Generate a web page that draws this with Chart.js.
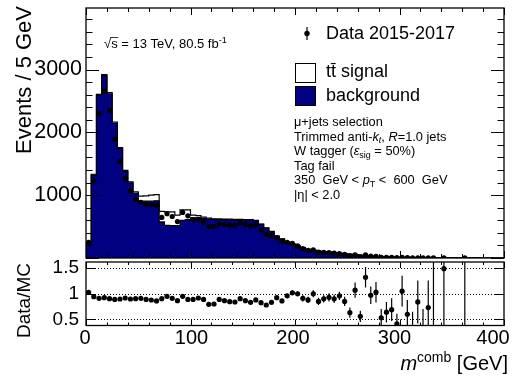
<!DOCTYPE html>
<html>
<head>
<meta charset="utf-8">
<script src="https://cdn.jsdelivr.net/npm/chart.js@4.4.1/dist/chart.umd.min.js"></script>
<style>
  html, body { margin: 0; padding: 0; background: #fff; }
  body { width: 527px; height: 379px; position: relative; overflow: hidden; }
  canvas { position: absolute; left: 0; }
  #mainPanel { top: 0; }
  #ratioPanel { top: 250px; }
</style>
</head>
<body>
<canvas id="mainPanel" width="527" height="262"></canvas>
<canvas id="ratioPanel" width="527" height="129"></canvas>
<script>
// ---- histogram binning: m^comb from 0 to 400 GeV in 5 GeV bins ----
const BIN_WIDTH = 5;
const X_MIN = 0;
const X_MAX = 400;
const binLow = Array.from({ length: (X_MAX - X_MIN) / BIN_WIDTH }, (_, i) => X_MIN + i * BIN_WIDTH);

// ---- background expectation (events / 5 GeV) ----
const background = [
  240, 1320, 2590, 2905, 2615, 2148, 1740, 1380, 1195, 1035,
  905, 905, 905, 910, 575, 520, 515, 515, 600, 612,
  640, 640, 628, 620, 614, 612, 610, 608, 606, 606,
  604, 602, 594, 535, 476, 420, 345, 300, 252, 225,
  190, 164, 136, 126, 107, 98, 92, 85, 75, 70,
  58, 48, 43, 38, 32, 26, 23, 18, 14.5, 11.5,
  10.5, 8.6, 6.7, 4.8, 3.8, 2.9, 2.4, 1.9, 1.4, 1.1,
  0.95, 0.75, 0.55, 0.45, 0.4, 0.35, 0.3, 0.25, 0.2, 0.2
];

// ---- ttbar signal expectation (events / 5 GeV) ----
const ttbarSignal = [
  5, 13, 15, 15, 20, 17, 17, 15, 17, 20,
  80, 85, 95, 98, 166, 215, 220, 168, 167, 155,
  43, 35, 22, 15, 11, 10, 10, 10, 9, 9,
  8, 8, 6, 5, 4, 4, 3, 3, 2, 2,
  2, 1.5, 1.5, 1, 1, 1, 1, 1, 1, 1,
  0.5, 0.5, 0.5, 0.5, 0.5, 0.5, 0.5, 0.5, 0.5, 0.5,
  0.1, 0.1, 0.1, 0.1, 0.1, 0.1, 0.1, 0.1, 0.1, 0.1,
  0.1, 0.1, 0.1, 0.1, 0.1, 0.1, 0.1, 0.1, 0.1, 0.1
];

// ---- observed data 2015-2017 (events / 5 GeV), null = empty bin ----
const observed = [
  250, 1230, 2300, 2660, 2352, 1889, 1540, 1262, 1068, 932,
  885, 860, 850, 838, 646, 705, 661, 580, 725, 672,
  610, 615, 570, 505, 500, 545, 532, 522, 515, 560,
  535, 510, 528, 446, 375, 355, 325, 262, 250, 232,
  192, 150, 121, 128, 92, 89, 87, 77, 72, 60,
  37, 52, 24, 50, 31, 27, 12, 12, 10, 5,
  11, 5, 1, 4, 1, 2, 2, null, 2, null,
  null, null, 1, null, null, null, null, null, null, null
];

// ---- Data/MC ratio and its uncertainty ----
const ratio = [
  1.027, 0.942, 0.91, 0.923, 0.903, 0.89, 0.897, 0.917, 0.897, 0.903,
  0.91, 0.89, 0.878, 0.859, 0.903, 0.949, 0.91, 0.865, 0.949, 0.89,
  0.89, 0.917, 0.89, 0.794, 0.8, 0.89, 0.865, 0.845, 0.839, 0.903,
  0.865, 0.833, 0.88, 0.826, 0.78, 0.833, 0.923, 0.86, 0.96, 1.02,
  1.0, 0.91, 0.88, 1.0, 0.85, 0.9, 0.93, 0.9, 0.96, 0.85,
  0.63, 1.07, 0.56, 1.32, 0.97, 1.03, 0.53, 0.64, 0.69, 0.41,
  1.05, 0.6, 0.2, 0.84, 0.25, 0.73, 2.6, null, 1.49, null,
  null, null, 2.6, null, null, null, null, null, null, null
];
const ratioErr = [
  0.02, 0.02, 0.02, 0.02, 0.02, 0.02, 0.02, 0.02, 0.02, 0.02,
  0.02, 0.02, 0.02, 0.02, 0.02, 0.02, 0.02, 0.02, 0.02, 0.02,
  0.02, 0.02, 0.02, 0.02, 0.02, 0.02, 0.02, 0.02, 0.02, 0.02,
  0.02, 0.02, 0.02, 0.02, 0.03, 0.03, 0.03, 0.04, 0.04, 0.05,
  0.05, 0.06, 0.06, 0.07, 0.07, 0.07, 0.08, 0.08, 0.08, 0.09,
  0.1, 0.15, 0.11, 0.2, 0.17, 0.2, 0.17, 0.2, 0.22, 0.2,
  0.3, 0.28, 0.45, 0.42, 0.45, 0.53, 2.6, null, 1.49, null,
  null, null, 2.6, null, null, null, null, null, null, null
];

// ---- axis ticks ----
const mainYTicks = [1000, 2000, 3000];
const mainYLabels = ['1000', '2000', '3000'];
const ratioYTicks = [0.5, 1, 1.5];
const ratioYLabels = ['0.5', '1', '1.5'];
const xTicks = [0, 100, 200, 300, 400];
const xLabels = ['0', '100', '200', '300', '400'];

const Y_MAX = 3980;
const RATIO_MIN = 0.38;
const RATIO_MAX = 1.62;

const NAVY = '#000080';
const FONT = '"Liberation Sans", Arial, Helvetica, sans-serif';

// stacked expectation
const mcTotal = background.map((b, i) => b + ttbarSignal[i]);

// step-outline points: value of bin i held from its low edge to the next edge
function stepPoints(values) {
  const pts = values.map((v, i) => ({ x: binLow[i], y: v }));
  pts.push({ x: X_MAX, y: values[values.length - 1] });
  return pts;
}
const centres = binLow.map(x => x + BIN_WIDTH / 2);

// keep the plot area exactly where the layout padding puts it
function noLabelOverhang(s) {
  s.paddingTop = 0; s.paddingBottom = 0; s.paddingLeft = 0; s.paddingRight = 0;
}

// ---- frame + inward ticks on all four sides ----
function frameTicks(opts) {
  return {
    id: 'frameTicks',
    afterDatasetsDraw(chart) {
      const { ctx, chartArea: a, scales } = chart;
      const xs = scales.x, ys = scales.y;
      ctx.save();
      ctx.strokeStyle = '#000';
      ctx.lineWidth = 1;
      ctx.beginPath();
      for (let v = X_MIN; v <= X_MAX + 1e-9; v += opts.xMinor) {
        const px = Math.round(xs.getPixelForValue(v)) + 0.5;
        const major = Math.abs(v / opts.xMajor - Math.round(v / opts.xMajor)) < 1e-6;
        const len = major ? opts.xMajorLen : opts.xMinorLen;
        ctx.moveTo(px, a.bottom); ctx.lineTo(px, a.bottom - len);
        ctx.moveTo(px, a.top); ctx.lineTo(px, a.top + len);
      }
      for (let v = opts.yStart; v <= ys.max + 1e-9; v += opts.yMinor) {
        if (v < ys.min - 1e-9) continue;
        const py = Math.round(ys.getPixelForValue(v)) + 0.5;
        const major = Math.abs(v / opts.yMajor - Math.round(v / opts.yMajor)) < 1e-6;
        const len = major ? opts.yMajorLen : opts.yMinorLen;
        if (len <= 0) continue;
        ctx.moveTo(a.left, py); ctx.lineTo(a.left + len, py);
        ctx.moveTo(a.right, py); ctx.lineTo(a.right - len, py);
      }
      ctx.stroke();
      ctx.lineWidth = 1.3;
      ctx.strokeRect(a.left, a.top, a.right - a.left, a.bottom - a.top);
      ctx.restore();
    }
  };
}

function drawRuns(ctx, x, y, runs, size) {
  let cx = x;
  for (const r of runs) {
    const s = size * (r.scale || 1);
    ctx.font = (r.italic ? 'italic ' : '') + s + 'px ' + FONT;
    ctx.fillText(r.t, cx, y + (r.dy || 0));
    cx += ctx.measureText(r.t).width;
  }
  return cx;
}

// ---- annotations of the upper panel ----
const mainText = {
  id: 'mainText',
  afterDraw(chart) {
    const ctx = chart.ctx;
    ctx.save();
    ctx.fillStyle = '#000';
    ctx.textBaseline = 'alphabetic';

    // energy and luminosity
    const es = 13;
    ctx.font = es + 'px ' + FONT;
    ctx.fillText('\u221A', 104, 48);
    let cx = 104 + ctx.measureText('\u221A').width;
    const sW = ctx.measureText('s').width;
    ctx.fillText('s', cx, 48);
    ctx.strokeStyle = '#000'; ctx.lineWidth = 0.8;
    ctx.beginPath(); ctx.moveTo(cx - 1, 37.5); ctx.lineTo(cx + sW + 0.5, 37.5); ctx.stroke();
    cx += sW;
    drawRuns(ctx, cx, 48, [
      { t: ' = 13 TeV, 80.5 fb' },
      { t: '-1', scale: 0.7, dy: -5 }
    ], es);

    // legend: data marker
    ctx.lineWidth = 1.2;
    ctx.beginPath(); ctx.moveTo(307, 27); ctx.lineTo(307, 40); ctx.stroke();
    ctx.beginPath(); ctx.arc(307, 33.5, 2.7, 0, Math.PI * 2); ctx.fill();
    ctx.font = '18px ' + FONT;
    ctx.textBaseline = 'middle';
    ctx.fillText('Data 2015-2017', 326, 34);

    // legend: signal box
    ctx.fillStyle = '#fff';
    ctx.fillRect(295.5, 63.5, 20, 19);
    ctx.strokeStyle = '#000'; ctx.lineWidth = 1;
    ctx.strokeRect(295.5, 63.5, 20, 19);
    ctx.fillStyle = '#000';
    ctx.fillText('tt\u0304 signal', 326, 72);

    // legend: background box
    ctx.fillStyle = NAVY;
    ctx.fillRect(295.5, 86.5, 20, 19);
    ctx.strokeRect(295.5, 86.5, 20, 19);
    ctx.fillStyle = '#000';
    ctx.fillText('background', 326, 96);

    // selection labels
    ctx.textBaseline = 'alphabetic';
    const s = 12.8, lx = 294;
    drawRuns(ctx, lx, 126, [{ t: '\u03BC+jets selection' }], s);
    drawRuns(ctx, lx, 140.5, [
      { t: 'Trimmed anti-' }, { t: 'k', italic: true }, { t: 't', italic: true, scale: 0.7, dy: 2.5 },
      { t: ', ' }, { t: 'R', italic: true }, { t: '=1.0 jets' }
    ], s);
    drawRuns(ctx, lx, 155, [
      { t: 'W tagger (' }, { t: '\u03B5', italic: true }, { t: 'sig', scale: 0.7, dy: 2.5 }, { t: ' = 50%)' }
    ], s);
    drawRuns(ctx, lx, 169.5, [{ t: 'Tag fail' }], s);
    drawRuns(ctx, lx, 184, [
      { t: '350  GeV < ' }, { t: 'p', italic: true }, { t: 'T', scale: 0.7, dy: 3 }, { t: ' <  600  GeV' }
    ], s);
    drawRuns(ctx, lx, 198.5, [{ t: '|\u03B7| < 2.0' }], s);

    // y-axis title
    ctx.save();
    ctx.translate(25, 6);
    ctx.rotate(-Math.PI / 2);
    ctx.font = '22px ' + FONT;
    ctx.textAlign = 'right';
    ctx.textBaseline = 'middle';
    ctx.fillText('Events / 5 GeV', 0, 0);
    ctx.restore();
    ctx.restore();
  }
};

// ---- annotations of the ratio panel ----
const xLabelNudge = [-1, 1, -2, -5, -11];
const ratioText = {
  id: 'ratioText',
  beforeDatasetsDraw(chart) {
    const { ctx, chartArea: a, scales } = chart;
    ctx.save();
    ctx.strokeStyle = '#000';
    ctx.lineWidth = 1;
    ctx.setLineDash([1, 2]);
    ctx.beginPath();
    for (const v of ratioYTicks) {
      const py = Math.round(scales.y.getPixelForValue(v)) + 0.5;
      ctx.moveTo(a.left, py); ctx.lineTo(a.right, py);
    }
    ctx.stroke();
    ctx.restore();
  },
  afterDraw(chart) {
    const { ctx, chartArea: a, scales } = chart;
    ctx.save();
    ctx.fillStyle = '#000';
    // x tick labels
    ctx.font = '20px ' + FONT;
    ctx.textAlign = 'center';
    ctx.textBaseline = 'middle';
    xTicks.forEach((v, i) => {
      ctx.fillText(xLabels[i], scales.x.getPixelForValue(v) + xLabelNudge[i], a.bottom + 13);
    });
    // y title
    ctx.save();
    ctx.translate(25, 50.5);
    ctx.rotate(-Math.PI / 2);
    ctx.font = '19px ' + FONT;
    ctx.textAlign = 'center';
    ctx.textBaseline = 'middle';
    ctx.fillText('Data/MC', 0, 0);
    ctx.restore();
    // x title, right-aligned at the axis end
    ctx.textAlign = 'left';
    ctx.textBaseline = 'alphabetic';
    const size = 20;
    ctx.font = 'italic ' + size + 'px ' + FONT;
    const w1 = ctx.measureText('m').width;
    ctx.font = (size * 0.7) + 'px ' + FONT;
    const w2 = ctx.measureText('comb').width;
    ctx.font = size + 'px ' + FONT;
    const w3 = ctx.measureText(' [GeV]').width;
    const x0 = a.right + 4 - (w1 + w2 + w3);
    drawRuns(ctx, x0, 120, [
      { t: 'm', italic: true }, { t: 'comb', scale: 0.7, dy: -8 }, { t: ' [GeV]' }
    ], size);
    ctx.restore();
  }
};

// ---- upper panel ----
new Chart(document.getElementById('mainPanel'), {
  type: 'line',
  data: {
    datasets: [
      {
        label: 'Data 2015-2017',
        data: observed.map((v, i) => ({ x: centres[i], y: v })),
        showLine: false,
        pointRadius: 2.6,
        pointBackgroundColor: '#000',
        pointBorderWidth: 0,
        order: 0
      },
      {
        label: 'background',
        data: stepPoints(background),
        stepped: 'before',
        fill: 'origin',
        backgroundColor: NAVY,
        borderColor: '#000',
        borderWidth: 1.2,
        pointRadius: 0,
        order: 1
      },
      {
        label: 'tt signal',
        data: stepPoints(mcTotal),
        stepped: 'before',
        fill: 'origin',
        backgroundColor: '#fff',
        borderColor: '#000',
        borderWidth: 1.2,
        pointRadius: 0,
        order: 2
      }
    ]
  },
  options: {
    responsive: false,
    animation: false,
    devicePixelRatio: 1,
    layout: { padding: { left: 0, right: 23, top: 8, bottom: 3.5 } },
    plugins: { legend: { display: false }, tooltip: { enabled: false } },
    scales: {
      x: { type: 'linear', min: X_MIN, max: X_MAX, display: false },
      y: {
        type: 'linear', min: 0, max: Y_MAX,
        afterFit(s) { s.width = 86; noLabelOverhang(s); },
        afterBuildTicks(s) { s.ticks = mainYTicks.map(v => ({ value: v })); },
        ticks: {
          font: { family: FONT, size: 21.5 }, color: '#000', padding: 4,
          callback: (v) => mainYLabels[mainYTicks.indexOf(v)]
        },
        grid: { display: false, drawTicks: false },
        border: { display: false }
      }
    }
  },
  plugins: [frameTicks({ xMinor: 20, xMajor: 100, xMinorLen: 4, xMajorLen: 7,
                         yStart: 0, yMinor: 200, yMajor: 1000, yMinorLen: 6.5, yMajorLen: 13 }), mainText]
});

// ---- ratio panel ----
const errorSegments = [];
ratio.forEach((r, i) => {
  if (r === null) return;
  errorSegments.push({ x: centres[i], y: r - ratioErr[i] });
  errorSegments.push({ x: centres[i], y: r + ratioErr[i] });
  errorSegments.push({ x: centres[i], y: null });
});

new Chart(document.getElementById('ratioPanel'), {
  type: 'line',
  data: {
    datasets: [
      {
        label: 'Data/MC',
        data: ratio.map((v, i) => ({ x: centres[i], y: v })),
        showLine: false,
        pointRadius: 2.6,
        pointBackgroundColor: '#000',
        pointBorderWidth: 0,
        order: 0
      },
      {
        label: 'uncertainty',
        data: errorSegments,
        spanGaps: false,
        borderColor: '#000',
        borderWidth: 1.2,
        pointRadius: 0,
        order: 1
      }
    ]
  },
  options: {
    responsive: false,
    animation: false,
    devicePixelRatio: 1,
    layout: { padding: { left: 0, right: 23, top: 12, bottom: 0 } },
    plugins: { legend: { display: false }, tooltip: { enabled: false } },
    scales: {
      x: {
        type: 'linear', min: X_MIN, max: X_MAX,
        afterFit(s) { s.height = 53.5; noLabelOverhang(s); },
        ticks: { display: false },
        grid: { display: false, drawTicks: false },
        border: { display: false }
      },
      y: {
        type: 'linear', min: RATIO_MIN, max: RATIO_MAX,
        afterFit(s) { s.width = 86; noLabelOverhang(s); },
        afterBuildTicks(s) { s.ticks = ratioYTicks.map(v => ({ value: v })); },
        ticks: {
          font: { family: FONT, size: 19 }, color: '#000', padding: 7,
          callback: (v) => ratioYLabels[ratioYTicks.indexOf(v)]
        },
        grid: { display: false, drawTicks: false },
        border: { display: false }
      }
    }
  },
  plugins: [frameTicks({ xMinor: 20, xMajor: 100, xMinorLen: 3, xMajorLen: 6,
                         yStart: 0.5, yMinor: 0.5, yMajor: 0.5, yMinorLen: 0, yMajorLen: 9 }), ratioText]
});
</script>
</body>
</html>
